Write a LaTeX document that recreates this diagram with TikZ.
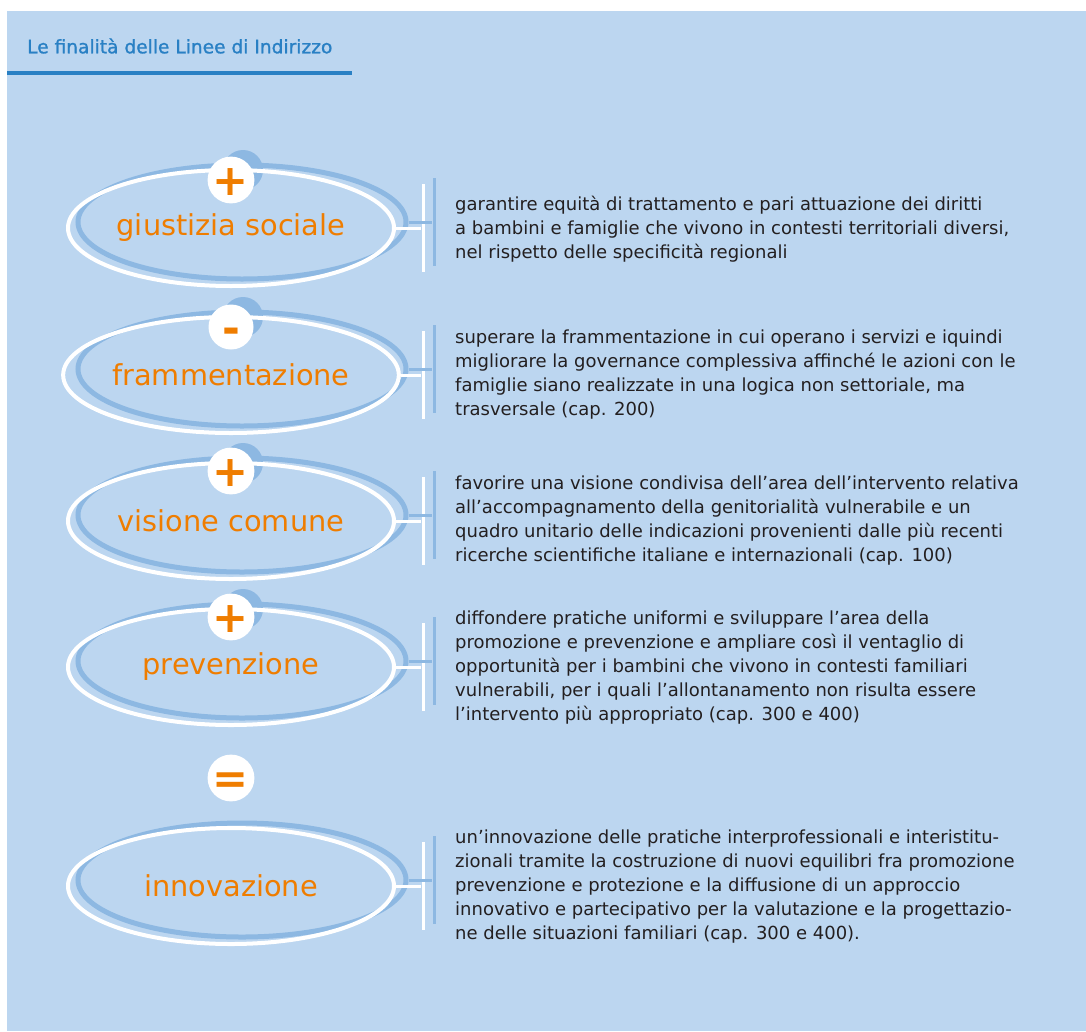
\documentclass[tikz,border=0pt]{standalone}
\usepackage{fontspec}
\setmainfont{DejaVu Sans}
\newfontfamily\titlefont[FakeBold=1.2]{DejaVu Sans}
\usepackage{tikz}
\usetikzlibrary{shapes.geometric, positioning}
\definecolor{panelblue}{RGB}{188,214,240}
\definecolor{shadeblue}{RGB}{141,184,226}
\definecolor{titleblue}{RGB}{41,128,196}
\definecolor{signorange}{RGB}{239,125,0}
\definecolor{textgray}{RGB}{35,31,32}

\begin{document}
\begin{tikzpicture}[x=1pt, y=-1pt,
  ring/.style={ellipse, draw=white, line width=4pt, minimum width=326pt,
               minimum height=116pt, inner sep=0pt,
               font=\fontsize{28.8}{30}\selectfont, text=signorange},
  ringshade/.style={ellipse, draw=shadeblue, line width=5pt, minimum width=328pt,
               minimum height=114pt, inner sep=0pt},
  dot/.style={circle, fill=white, minimum size=45pt, inner sep=0pt,
              text height=30pt, text depth=0pt,
              font=\bfseries\fontsize{43}{43}\selectfont, text=signorange},
  dotshade/.style={circle, fill=shadeblue, minimum size=40pt, inner sep=0pt},
  bar/.style={rectangle, fill=white, minimum width=3pt, minimum height=88pt, inner sep=0pt},
  barshade/.style={rectangle, fill=shadeblue, minimum width=3pt, minimum height=88pt, inner sep=0pt},
  link/.style={draw=white, line width=3pt},
  linkshade/.style={draw=shadeblue, line width=3pt},
  desc/.style={anchor=west, align=left, text=textgray, inner sep=0pt,
               font=\fontsize{18}{24}\selectfont},
]
  \useasboundingbox (0,0) rectangle (1086,1031);
  \fill[panelblue] (7,11) rectangle (1086,1031);

  % Title
  \node[anchor=west, text=titleblue, inner sep=0pt, font=\titlefont\fontsize{18.6}{20}\selectfont]
    (title) at (27,46) {Le finalità delle Linee di Indirizzo};
  \draw[titleblue, line width=3.5pt] (7,73) -- (352,73);

  % giustizia sociale
  \node[ringshade] (rs1) at (242,222) {};
  \node[dotshade] (ds1) at (243,170) {};
  \node[ring] (r1) at (231,228) {giustizia sociale};
  \node[dot] (d1) at (231,180) {+};
  \node[barshade] (bs1) at (434,222) {};
  \node[bar] (b1) at (423,228) {};
  \draw[linkshade] (rs1.east) -- (bs1);
  \draw[link] (r1.east) -- (b1);
  \node[desc] (t1) at (455,229)
    {garantire equità di trattamento e pari attuazione dei diritti\\
     a bambini e famiglie che vivono in contesti territoriali diversi,\\
     nel rispetto delle specificità regionali};

  % frammentazione
  \node[ringshade] (rs2) at (242,369) {};
  \node[dotshade] (ds2) at (243,317) {};
  \node[ring] (r2) at (231,375) {frammentazione};
  \node[dot] (d2) at (231,327) {\raisebox{-0.04em}{-}};
  \node[barshade] (bs2) at (434,369) {};
  \node[bar] (b2) at (423,375) {};
  \draw[linkshade] (rs2.east) -- (bs2);
  \draw[link] (r2.east) -- (b2);
  \node[desc] (t2) at (455,375)
    {superare la frammentazione in cui operano i servizi e iquindi\\
     migliorare la governance complessiva affinché le azioni con le\\
     famiglie siano realizzate in una logica non settoriale, ma\\
     trasversale (cap. 200)};

  % visione comune
  \node[ringshade] (rs3) at (242,515) {};
  \node[dotshade] (ds3) at (243,463) {};
  \node[ring] (r3) at (231,521) {visione comune};
  \node[dot] (d3) at (231,471) {+};
  \node[barshade] (bs3) at (434,515) {};
  \node[bar] (b3) at (423,521) {};
  \draw[linkshade] (rs3.east) -- (bs3);
  \draw[link] (r3.east) -- (b3);
  \node[desc] (t3) at (455,521)
    {favorire una visione condivisa dell’area dell’intervento relativa\\
     all’accompagnamento della genitorialità vulnerabile e un\\
     quadro unitario delle indicazioni provenienti dalle più recenti\\
     ricerche scientifiche italiane e internazionali (cap. 100)};

  % prevenzione
  \node[ringshade] (rs4) at (242,661) {};
  \node[dotshade] (ds4) at (243,609) {};
  \node[ring] (r4) at (231,667) {prevenzione};
  \node[dot] (d4) at (231,617) {+};
  \node[barshade] (bs4) at (434,661) {};
  \node[bar] (b4) at (423,667) {};
  \draw[linkshade] (rs4.east) -- (bs4);
  \draw[link] (r4.east) -- (b4);
  \node[desc] (t4) at (455,668)
    {diffondere pratiche uniformi e sviluppare l’area della\\
     promozione e prevenzione e ampliare così il ventaglio di\\
     opportunità per i bambini che vivono in contesti familiari\\
     vulnerabili, per i quali l’allontanamento non risulta essere\\
     l’intervento più appropriato (cap. 300 e 400)};

  % innovazione
  \node[dot] (d5) at (231,778) {=};
  \node[ringshade] (rs5) at (242,880) {};
  \node[ring] (r5) at (231,886) {innovazione};
  \node[barshade] (bs5) at (434,880) {};
  \node[bar] (b5) at (423,886) {};
  \draw[linkshade] (rs5.east) -- (bs5);
  \draw[link] (r5.east) -- (b5);
  \node[desc] (t5) at (455,887)
    {un'innovazione delle pratiche interprofessionali e interistitu-\\
     zionali tramite la costruzione di nuovi equilibri fra promozione\\
     prevenzione e protezione e la diffusione di un approccio\\
     innovativo e partecipativo per la valutazione e la progettazio-\\
     ne delle situazioni familiari (cap. 300 e 400).};
\end{tikzpicture}
\end{document}
